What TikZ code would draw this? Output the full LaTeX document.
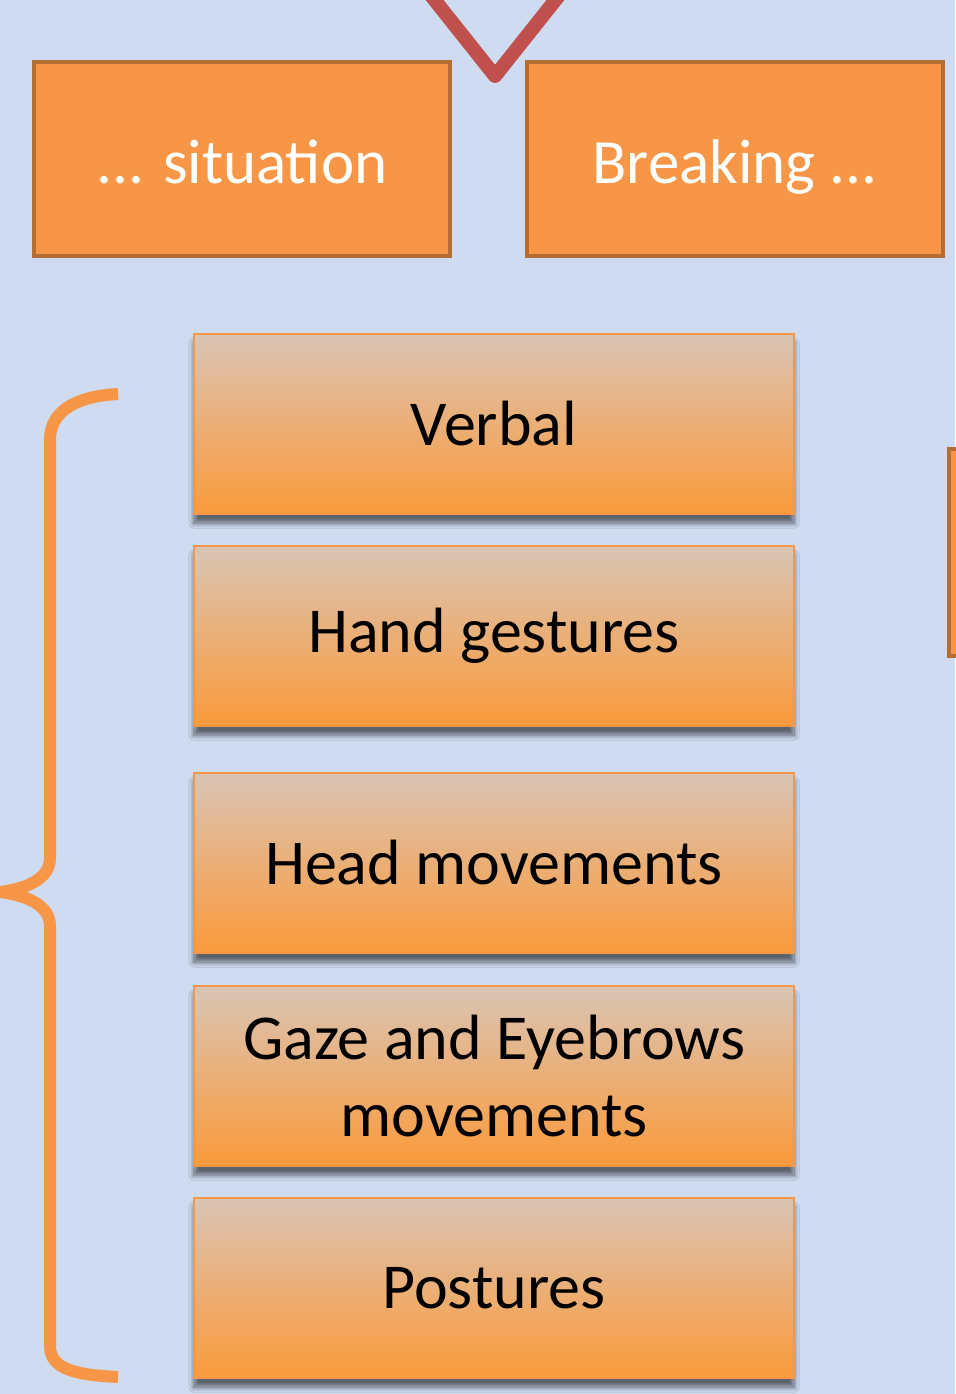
\documentclass[tikz,border=0pt]{standalone}
\usepackage{fontspec}
\setmainfont{Carlito}
\usepackage{tikz}
\usetikzlibrary{positioning}
\usetikzlibrary{shadows.blur}

\definecolor{bgblue}{RGB}{206,219,240}
\definecolor{sitorange}{RGB}{247,150,70}
\definecolor{sitborder}{RGB}{182,109,49}
\definecolor{cuetop}{RGB}{218,196,180}
\definecolor{cuebottom}{RGB}{251,154,58}
\definecolor{vred}{RGB}{192,80,77}

\begin{document}
\begin{tikzpicture}[x=0.5pt,y=-0.5pt]

\tikzset{situation box/.style={
    draw=sitborder, line width=2pt, fill=sitorange, text=white,
    minimum width=208pt, minimum height=97pt, inner sep=0pt,
    text height=24pt, text depth=0pt,
    font=\fontsize{31.5}{33}\selectfont
  },
  cue box/.style={
    draw=sitorange, line width=0.8pt, top color=cuetop, bottom color=cuebottom,
    minimum width=300.2pt, minimum height=90.2pt, inner sep=0pt, align=center,
    font=\fontsize{32}{38.5}\selectfont,
    blur shadow={shadow xshift=0pt, shadow yshift=-4.5pt, shadow blur radius=2.5pt,
      shadow blur steps=10, shadow opacity=55}
  },
  brace line/.style={draw=sitorange, line width=6pt}
}

\fill[bgblue] (0,0) rectangle (955,1394);
\useasboundingbox (0,0) rectangle (955,1394);

% top chevron
\draw[vred, line width=7pt, line join=round] (425,-12) -- (495,76) -- (565,-12);

\node[situation box] (sit) at (242,159) {... situation};
\node[situation box] (brk) at (735,159) {Breaking ...};

% cut-off box at the right edge
\draw[draw=sitborder, line width=2pt, fill=sitorange] (949,449) rectangle (1010,656);

\node[cue box] (verbal) at (494,424) {Verbal};
\node[cue box, below=15pt of verbal] (hand) {Hand gestures};
\node[cue box, below=22.5pt of hand] (head) {Head movements};
\node[cue box, below=15.5pt of head] (gaze) {Gaze and Eyebrows\\movements};
\node[cue box, below=15pt of gaze] (post) {Postures};

% brace
\draw[brace line] (118,394) .. controls (78,396) and (50,410) .. (50,440) -- (50,858)
  .. controls (50,880) and (24,889) .. (0,892)
  .. controls (24,895) and (50,904) .. (50,926) -- (50,1346)
  .. controls (50,1370) and (78,1375) .. (118,1377);

\end{tikzpicture}
\end{document}
